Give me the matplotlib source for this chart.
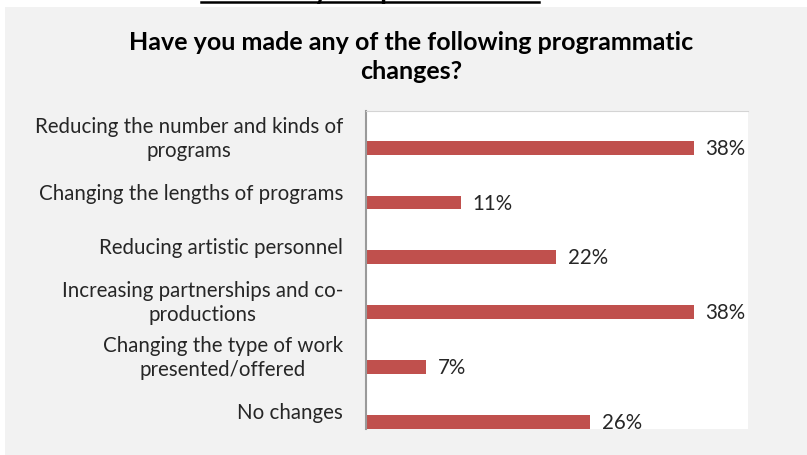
import numpy as np
import matplotlib
matplotlib.use("Agg")
from matplotlib import pyplot as plt
from matplotlib.patches import Rectangle
from matplotlib.lines import Line2D

categories = [
    "Reducing the number and kinds of\nprograms",
    "Changing the lengths of programs",
    "Reducing artistic personnel",
    "Increasing partnerships and co-\nproductions",
    "Changing the type of work\npresented/offered",
    "No changes",
]
values = [38, 11, 22, 38, 7, 26]
value_labels = ["38%", "11%", "22%", "38%", "7%", "26%"]

font = "Lato"
bar_color = "#c0504d"
text_color = "#262626"

fig = plt.figure(figsize=(8.07, 4.56), dpi=100)
fig.patch.set_facecolor("white")

# grey panel behind the chart
fig.add_artist(Rectangle((5 / 807, 0), 1, 1 - 8 / 456, transform=fig.transFigure,
                         facecolor="#f2f2f2", edgecolor="none", zorder=0))

# heading that runs off the top edge
fig.text(370 / 807, 1 + 1 / 456, "Survey Respondents", ha="center", va="baseline",
         fontsize=20, fontweight="bold", family=font, color="black")
fig.add_artist(Line2D([201 / 807, 539 / 807], [1 - 3 / 456, 1 - 3 / 456],
                      transform=fig.transFigure, color="black", lw=1.8))

fig.text(411 / 807, 1 - 57 / 456,
         "Have you made any of the following programmatic\nchanges?",
         ha="center", va="center", fontsize=18, fontweight="bold",
         family=font, color="black", linespacing=1.35)

ax = fig.add_axes([366 / 807, 1 - 430 / 456, 382 / 807, 318 / 456])
ax.set_facecolor("white")

y = np.arange(len(categories))
ax.barh(y, values, height=0.255, color=bar_color, zorder=2)

ax.set_xlim(0, 44.3)
ax.set_ylim(5.131, -0.669)

for yi, v, lab in zip(y, values, value_labels):
    ax.annotate(lab, (v, yi), xytext=(8.6, 0), textcoords="offset points",
                ha="left", va="center", fontsize=14.8, family=font,
                color=text_color, annotation_clip=False, clip_on=True)

for yi, cat in zip(y, categories):
    ax.annotate(cat, (0, yi), xycoords=("axes fraction", "data"),
                xytext=(-16.5, 7.2), textcoords="offset points",
                ha="right", va="center", multialignment="center",
                fontsize=14.8, family=font, color=text_color, linespacing=1.25,
                annotation_clip=False)

ax.set_xticks([])
ax.set_yticks([])
ax.spines["right"].set_visible(False)
ax.spines["bottom"].set_visible(False)
ax.spines["top"].set_color("#d4d4d4")
ax.spines["left"].set_color("#9a9a9a")
ax.spines["left"].set_linewidth(1.5)

fig.savefig("out.png", dpi=100)
